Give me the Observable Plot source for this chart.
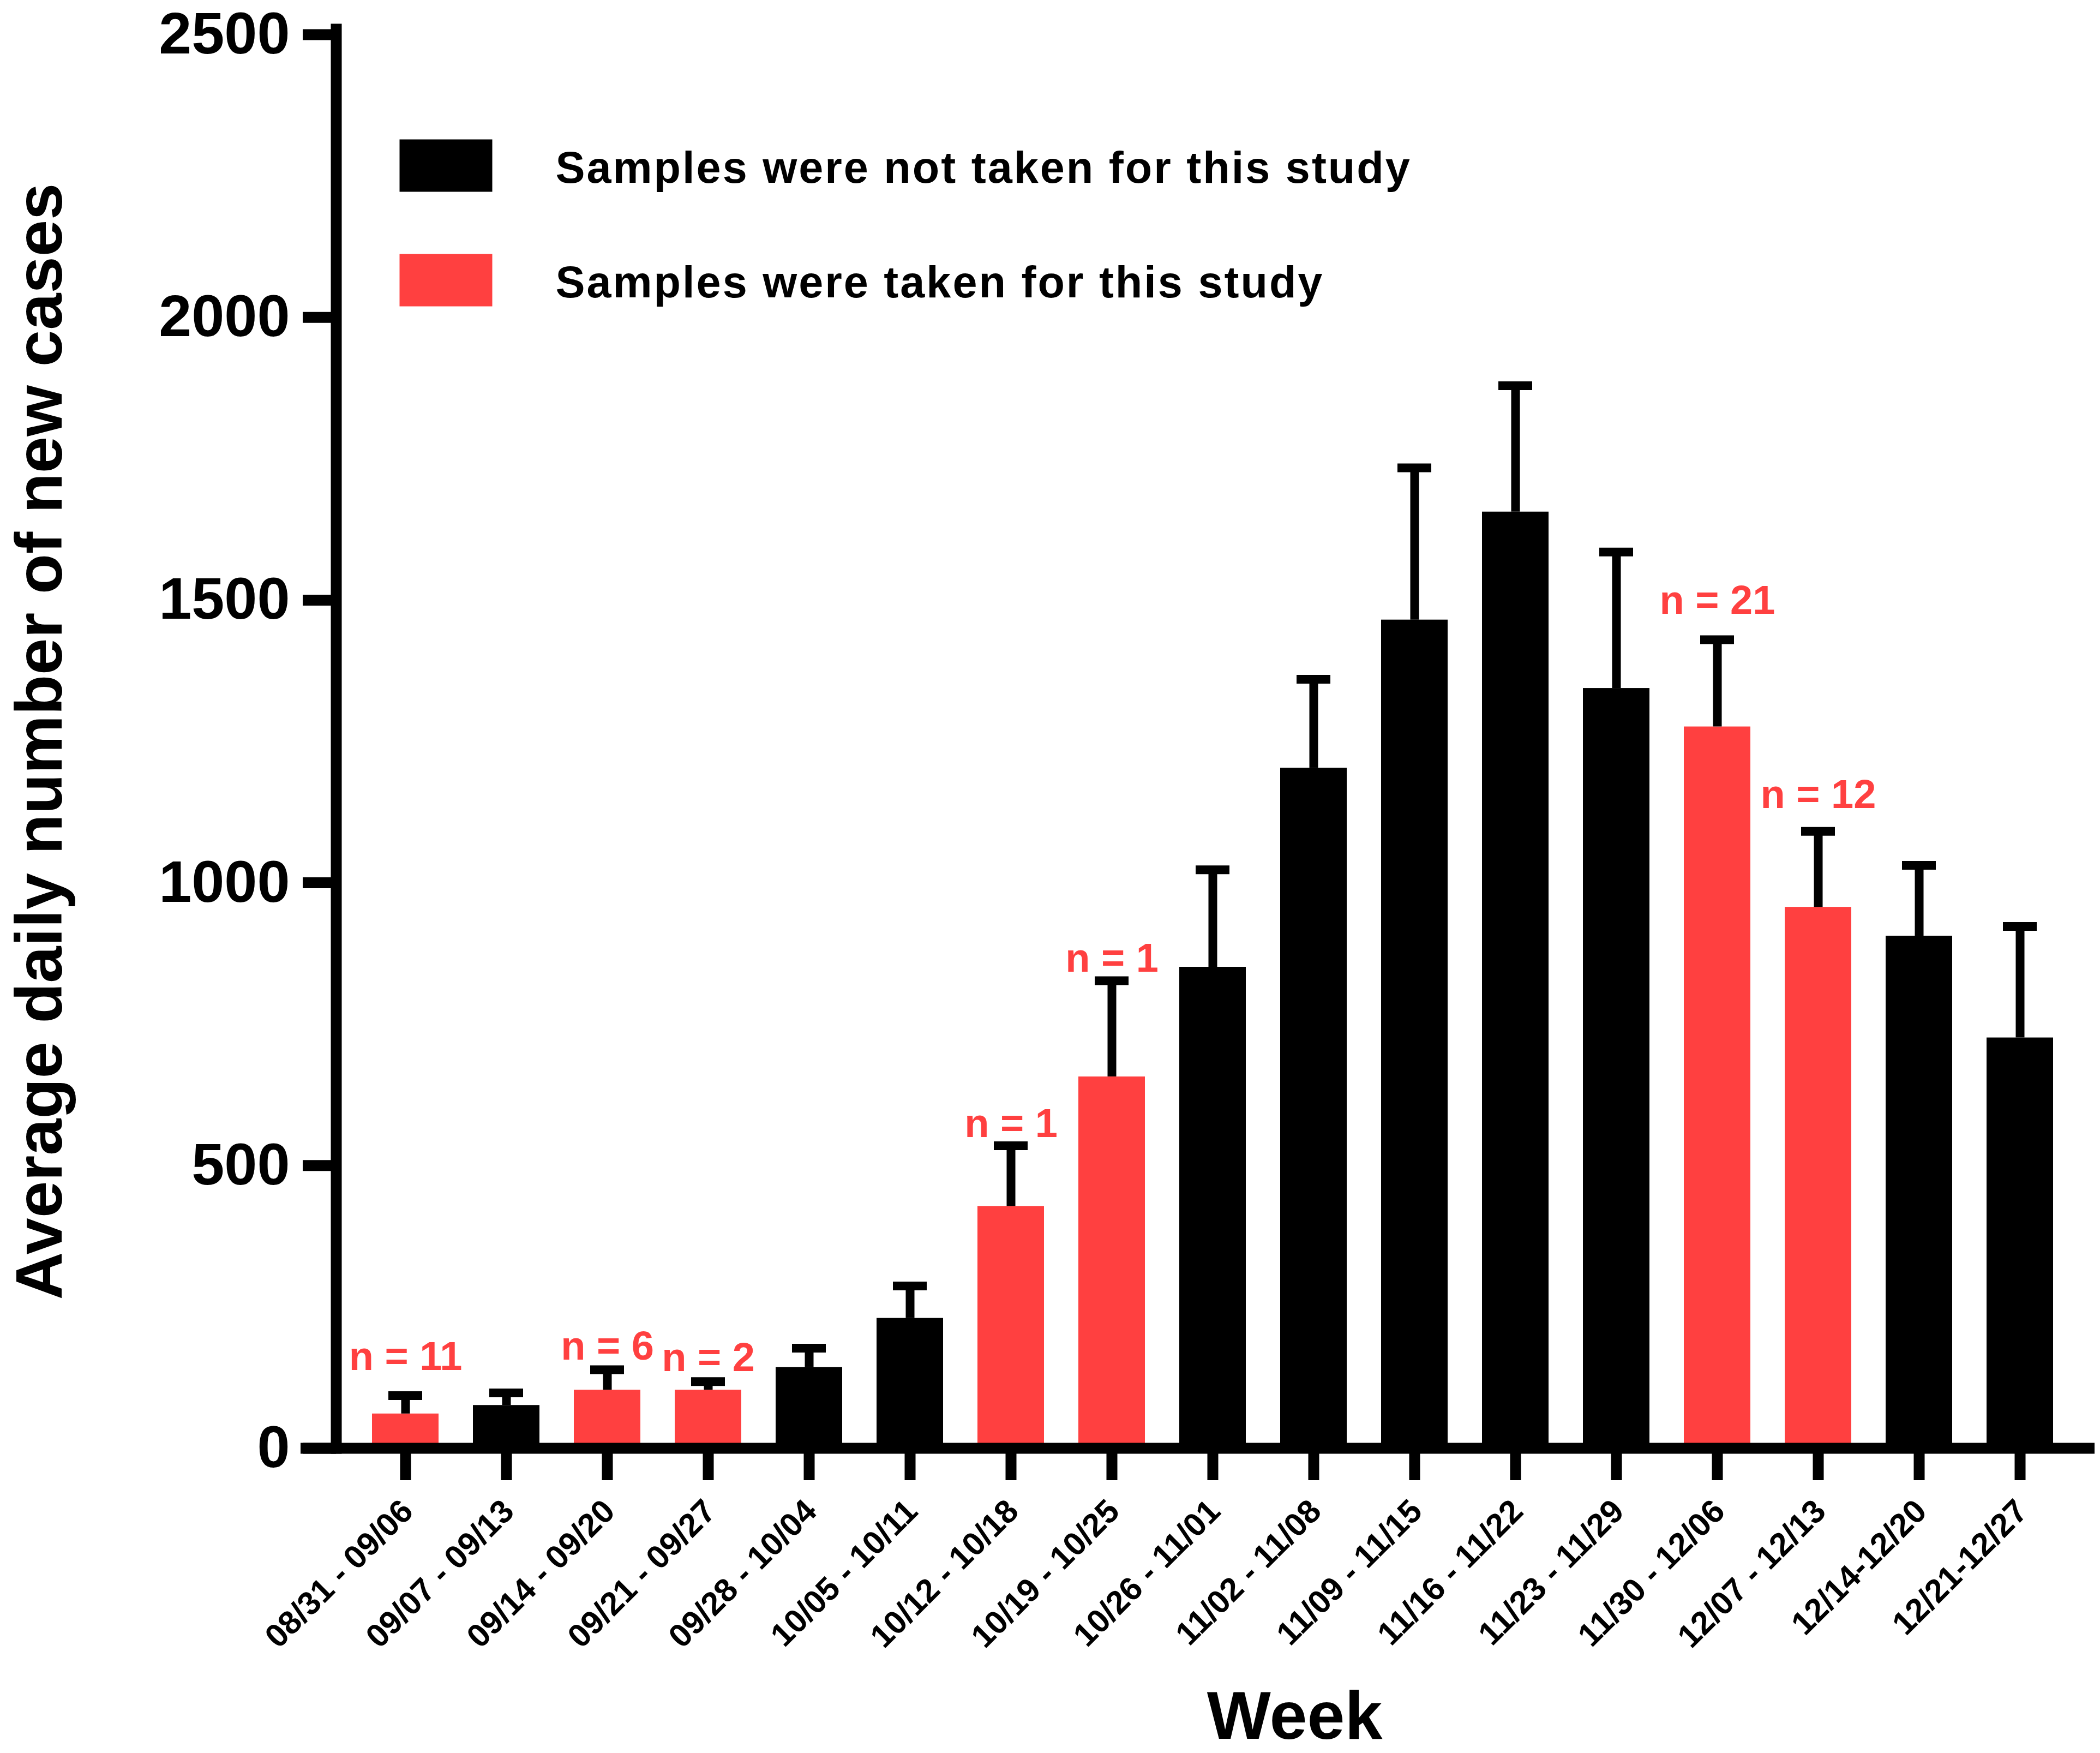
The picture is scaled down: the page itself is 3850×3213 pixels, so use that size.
<!DOCTYPE html>
<html>
<head>
<meta charset="utf-8">
<script src="https://cdn.jsdelivr.net/npm/d3@7"></script>
<script src="https://cdn.jsdelivr.net/npm/@observablehq/plot@0.6"></script>
<style>
  html, body { margin: 0; padding: 0; background: #fff; overflow: hidden; }
  #chart svg { display: block; }
</style>
</head>
<body>
<div id="chart"></div>
<script>
// ---- data ----
const weeks = [
  "08/31 - 09/06", "09/07 - 09/13", "09/14 - 09/20", "09/21 - 09/27",
  "09/28 - 10/04", "10/05 - 10/11", "10/12 - 10/18", "10/19 - 10/25",
  "10/26 - 11/01", "11/02 - 11/08", "11/09 - 11/15", "11/16 - 11/22",
  "11/23 - 11/29", "11/30 - 12/06", "12/07 - 12/13", "12/14-12/20", "12/21-12/27"
];
const meanCases  = [61, 76, 103, 103, 143, 230, 428, 657, 851, 1203, 1465, 1656, 1344, 1276, 957, 906, 726];
const errorCases = [32, 22, 36, 15, 34, 57, 107, 170, 172, 157, 269, 223, 241, 154, 134, 125, 197];
const sampled    = [true, false, true, true, false, false, true, true, false, false, false, false, false, true, true, false, false];
const sampleN    = [11, null, 6, 2, null, null, 1, 1, null, null, null, null, null, 21, 12, null, null];
const nLabelAt   = [138, null, 157, 137, null, null, 550, 843, null, null, null, null, null, 1476, 1132, null, null];
const yTicks = [0, 500, 1000, 1500, 2000, 2500];
const legendLabels = ["Samples were not taken for this study", "Samples were taken for this study"];
const yLabel = "Average daily number of new cases";
const xLabel = "Week";

const RED = "#ff4040";
const BLACK = "#000000";

const data = weeks.map((w, i) => ({
  week: w,
  mean: meanCases[i],
  upper: meanCases[i] + errorCases[i],
  color: sampled[i] ? RED : BLACK
}));
const nData = weeks.map((w, i) => ({week: w, n: sampleN[i], at: nLabelAt[i]})).filter(d => d.n != null);

const rectSymbol = {draw(ctx) { ctx.rect(-85, -48, 170, 96); }};

const plot = Plot.plot({
  width: 3850,
  height: 3213,
  marginTop: 63,
  marginBottom: 559,
  marginLeft: 616,
  marginRight: 20,
  style: {fontFamily: "'Liberation Sans', Arial, sans-serif", background: "#fff", color: "#000"},
  x: {type: "band", domain: weeks, padding: 0.34, axis: null},
  y: {domain: [0, 2500], axis: null},
  marks: [
    Plot.barY(data, {x: "week", y: "mean", fill: "color"}),
    Plot.ruleX(data, {x: "week", y1: "mean", y2: "upper", stroke: BLACK, strokeWidth: 16}),
    Plot.tickY(data, {x: "week", y: "upper", stroke: BLACK, strokeWidth: 16, insetLeft: 30, insetRight: 30}),
    // axes
    Plot.frame({anchor: "left", stroke: BLACK, strokeWidth: 20, insetTop: -10}),
    Plot.ruleY([0], {stroke: BLACK, strokeWidth: 20, insetLeft: -65, insetRight: -10}),
    Plot.axisY({ticks: yTicks, tickSize: 61, tickPadding: 24, strokeWidth: 20, fontSize: 108,
                fontWeight: "bold", tickFormat: d => String(d), label: null}),
    Plot.axisX({tickSize: 59, strokeWidth: 20, tickFormat: () => "", label: null}),
    Plot.text(weeks, {x: d => d, frameAnchor: "bottom", rotate: -45, textAnchor: "end",
                      lineAnchor: "bottom", dx: 17, dy: 119, fontSize: 60, fontWeight: "bold"}),
    // n labels
    Plot.text(nData, {x: "week", y: "at", text: d => `n = ${d.n}`, fill: RED, fontSize: 74,
                      fontWeight: "bold", lineAnchor: "bottom"}),
    // axis titles
    Plot.text([yLabel], {frameAnchor: "left", rotate: -90, dx: -504, lineAnchor: "bottom",
                         textAnchor: "middle", fontSize: 121, fontWeight: "bold"}),
    Plot.text([xLabel], {frameAnchor: "bottom", dx: 150, dy: 532, lineAnchor: "bottom",
                         fontSize: 124, fontWeight: "bold"}),
    // legend
    Plot.dot([0], {frameAnchor: "top-left", dx: 201, dy: 240, symbol: rectSymbol, fill: BLACK, stroke: "none"}),
    Plot.dot([0], {frameAnchor: "top-left", dx: 201, dy: 450, symbol: rectSymbol, fill: RED, stroke: "none"}),
    Plot.text([legendLabels[0]], {frameAnchor: "top-left", dx: 402, dy: 271, textAnchor: "start",
                                  lineAnchor: "bottom", fontSize: 81, fontWeight: "bold", className: "legend-text"}),
    Plot.text([legendLabels[1]], {frameAnchor: "top-left", dx: 402, dy: 481, textAnchor: "start",
                                  lineAnchor: "bottom", fontSize: 81, fontWeight: "bold", className: "legend-text"})
  ]
});
plot.querySelectorAll(".legend-text text").forEach(t => t.style.letterSpacing = "3px");
document.getElementById("chart").appendChild(plot);
</script>
</body>
</html>
